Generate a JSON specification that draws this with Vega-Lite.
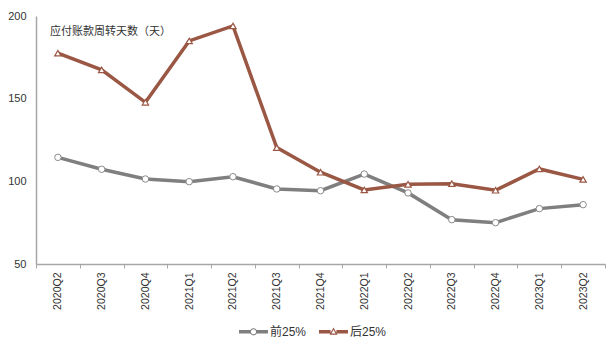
{
  "$schema": "https://vega.github.io/schema/vega-lite/v6.json",
  "width": 569,
  "height": 248,
  "autosize": {"type": "none"},
  "padding": {"left": 36, "top": 16, "right": 6, "bottom": 89},
  "background": "white",
  "config": {
    "view": {"stroke": null},
    "font": "Liberation Sans",
    "axis": {"grid": false, "title": null}
  },
  "title": {
    "text": "应付账款周转天数（天）",
    "anchor": "start",
    "frame": "group",
    "orient": "top",
    "offset": -38,
    "dx": 14,
    "baseline": "bottom",
    "font": "Noto Sans CJK SC",
    "fontSize": 11,
    "fontWeight": "normal",
    "color": "#333333"
  },
  "data": {
    "values": [
      {"q": "2020Q2", "series": "前25%", "v": 114.5},
      {"q": "2020Q3", "series": "前25%", "v": 107.3},
      {"q": "2020Q4", "series": "前25%", "v": 101.4},
      {"q": "2021Q1", "series": "前25%", "v": 99.8},
      {"q": "2021Q2", "series": "前25%", "v": 102.8},
      {"q": "2021Q3", "series": "前25%", "v": 95.4},
      {"q": "2021Q4", "series": "前25%", "v": 94.3},
      {"q": "2022Q1", "series": "前25%", "v": 104.4},
      {"q": "2022Q2", "series": "前25%", "v": 93.0},
      {"q": "2022Q3", "series": "前25%", "v": 76.8},
      {"q": "2022Q4", "series": "前25%", "v": 75.0},
      {"q": "2023Q1", "series": "前25%", "v": 83.5},
      {"q": "2023Q2", "series": "前25%", "v": 85.9},
      {"q": "2020Q2", "series": "后25%", "v": 177.5},
      {"q": "2020Q3", "series": "后25%", "v": 167.4},
      {"q": "2020Q4", "series": "后25%", "v": 147.8},
      {"q": "2021Q1", "series": "后25%", "v": 184.9},
      {"q": "2021Q2", "series": "后25%", "v": 194.0},
      {"q": "2021Q3", "series": "后25%", "v": 120.4},
      {"q": "2021Q4", "series": "后25%", "v": 105.5},
      {"q": "2022Q1", "series": "后25%", "v": 94.8},
      {"q": "2022Q2", "series": "后25%", "v": 98.2},
      {"q": "2022Q3", "series": "后25%", "v": 98.6},
      {"q": "2022Q4", "series": "后25%", "v": 94.6},
      {"q": "2023Q1", "series": "后25%", "v": 107.5},
      {"q": "2023Q2", "series": "后25%", "v": 101.2}
    ]
  },
  "encoding": {
    "x": {
      "field": "q",
      "type": "ordinal",
      "sort": null,
      "scale": {"type": "band", "paddingInner": 0, "paddingOuter": 0},
      "axis": {
        "labelAngle": -90,
        "labelFontSize": 10.5,
        "labelColor": "#333333",
        "domainColor": "#a6a6a6",
        "domainWidth": 1.5,
        "tickColor": "#a6a6a6",
        "tickWidth": 1,
        "tickSize": 4,
        "tickBand": "extent",
        "labelPadding": 4
      }
    },
    "y": {
      "field": "v",
      "type": "quantitative",
      "scale": {"domain": [50, 200], "nice": false, "zero": false},
      "axis": {
        "values": [50, 100, 150, 200],
        "ticks": false,
        "labelFontSize": 11,
        "labelColor": "#333333",
        "domainColor": "#a6a6a6",
        "domainWidth": 1.5,
        "labelPadding": 10
      }
    }
  },
  "layer": [
    {
      "mark": {"type": "point", "filled": true, "size": 0, "opacity": 1},
      "encoding": {
        "color": {
          "field": "series",
          "type": "nominal",
          "scale": {"domain": ["前25%", "后25%"], "range": ["#7f7f7f", "#9a5744"]},
          "legend": {
            "orient": "none",
            "legendX": 203,
            "legendY": 301,
            "direction": "horizontal",
            "title": null,
            "symbolSize": 841,
            "symbolStrokeWidth": 0,
            "symbolOpacity": 1,
            "labelFont": "Liberation Sans, Noto Sans CJK SC",
            "labelFontSize": 12,
            "labelColor": "#333333",
            "labelOffset": 2,
            "columnPadding": 12
          }
        },
        "shape": {
          "field": "series",
          "type": "nominal",
          "scale": {
            "domain": ["前25%", "后25%"],
            "range": [
              "M-1,-0.12H-0.2V0.12H-1Z M0.2,-0.12H1V0.12H0.2Z M0.25,0A0.25,0.25 0 1,1 -0.25,0A0.25,0.25 0 1,1 0.25,0Z M0.18,0A0.18,0.18 0 1,0 -0.18,0A0.18,0.18 0 1,0 0.18,0Z",
              "M-1,-0.12H-0.2V0.12H-1Z M0.2,-0.12H1V0.12H0.2Z M0,-0.3L0.28,0.2L-0.28,0.2Z M0,-0.136L-0.143,0.12L0.143,0.12Z"
            ]
          }
        }
      }
    },
    {
      "mark": {"type": "line", "strokeWidth": 3.5},
      "encoding": {
        "stroke": {
          "field": "series",
          "type": "nominal",
          "scale": {"domain": ["前25%", "后25%"], "range": ["#7f7f7f", "#9a5744"]},
          "legend": null
        }
      }
    },
    {
      "transform": [{"filter": "datum.series === '前25%'"}],
      "mark": {"type": "point", "shape": "circle", "filled": true, "fill": "white", "stroke": "#8a8a8a", "strokeWidth": 1, "size": 42, "opacity": 1}
    },
    {
      "transform": [{"filter": "datum.series === '后25%'"}],
      "mark": {"type": "point", "shape": "triangle-up", "filled": true, "fill": "white", "stroke": "#9a5744", "strokeWidth": 1.2, "size": 40, "opacity": 1}
    }
  ]
}
